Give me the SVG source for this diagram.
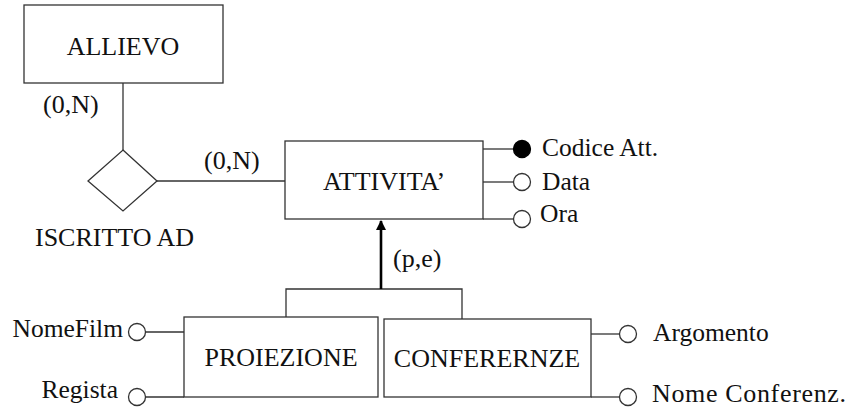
<svg xmlns="http://www.w3.org/2000/svg" width="850" height="410" viewBox="0 0 850 410">
<style>
.box{fill:#fff;stroke:#333;stroke-width:1.3}
.ln{fill:none;stroke:#333;stroke-width:1.3}
.att{fill:#fff;stroke:#333;stroke-width:1.3}
.key{fill:#000;stroke:#000;stroke-width:1.3}
text{font-family:"Liberation Serif","Times New Roman",serif;font-size:26px;fill:#111}
.a{font-size:25.5px}
.c{text-anchor:middle}
.r{text-anchor:end}
</style>
<defs>
<marker id="ah" viewBox="0 0 10 10" refX="9" refY="5" markerWidth="4" markerHeight="4" orient="auto" markerUnits="strokeWidth">
<path d="M0,0 L10,5 L0,10 Z" fill="#000"/>
</marker>
</defs>
<rect width="850" height="410" fill="#fff"/>
<g id="connectors">
<line class="ln" x1="123" y1="83" x2="123" y2="150"/>
<line class="ln" x1="157" y1="181" x2="285" y2="181"/>
<polyline class="ln" points="286,317 286,289 462,289 462,319"/>
<line x1="381" y1="289" x2="381" y2="221" stroke="#000" stroke-width="2.6" marker-end="url(#ah)"/>
<line class="ln" x1="483" y1="149" x2="513" y2="149"/>
<line class="ln" x1="483" y1="182" x2="513" y2="182"/>
<line class="ln" x1="483" y1="219" x2="513" y2="219"/>
<line class="ln" x1="145.5" y1="332" x2="184" y2="332"/>
<line class="ln" x1="145.5" y1="397" x2="184" y2="397"/>
<line class="ln" x1="591" y1="334" x2="619.5" y2="334"/>
<line class="ln" x1="591" y1="397" x2="619.5" y2="397"/>
</g>
<g id="allievo">
<rect class="box" x="24" y="5" width="199" height="78"/>
<text class="c" x="123" y="55">ALLIEVO</text>
</g>
<g id="iscritto-ad">
<polygon class="box" points="123,150 157,181 123,211 88,181"/>
<text x="35" y="246">ISCRITTO AD</text>
</g>
<g id="card-labels">
<text x="43" y="113">(0,N)</text>
<text x="204" y="169">(0,N)</text>
<text x="393" y="267">(p,e)</text>
</g>
<g id="attivita">
<rect class="box" x="285" y="141" width="198" height="78"/>
<text class="c" x="384" y="190" font-size="26.5">ATTIVITA’</text>
</g>
<g id="attr-codice">
<circle class="key" cx="522" cy="149" r="8.5"/>
<text class="a" x="542" y="156">Codice Att.</text>
</g>
<g id="attr-data">
<circle class="att" cx="522" cy="182" r="8.5"/>
<text class="a" x="542" y="190">Data</text>
</g>
<g id="attr-ora">
<circle class="att" cx="522" cy="219" r="8.5"/>
<text class="a" x="540" y="222">Ora</text>
</g>
<g id="proiezione">
<rect class="box" x="184" y="317" width="194" height="80"/>
<text class="c" x="281" y="366">PROIEZIONE</text>
</g>
<g id="conferernze">
<rect class="box" x="384" y="319" width="207" height="78"/>
<text class="c" x="487" y="367">CONFERERNZE</text>
</g>
<g id="attr-nomefilm">
<circle class="att" cx="137" cy="332" r="8.5"/>
<text class="a r" x="123" y="337">NomeFilm</text>
</g>
<g id="attr-regista">
<circle class="att" cx="137" cy="397" r="8.5"/>
<text class="a r" x="118" y="398">Regista</text>
</g>
<g id="attr-argomento">
<circle class="att" cx="628" cy="334" r="8.5"/>
<text class="a" x="653" y="341">Argomento</text>
</g>
<g id="attr-nomeconf">
<circle class="att" cx="628" cy="397" r="8.5"/>
<text x="652" y="402" textLength="194">Nome Conferenz.</text>
</g>
</svg>
